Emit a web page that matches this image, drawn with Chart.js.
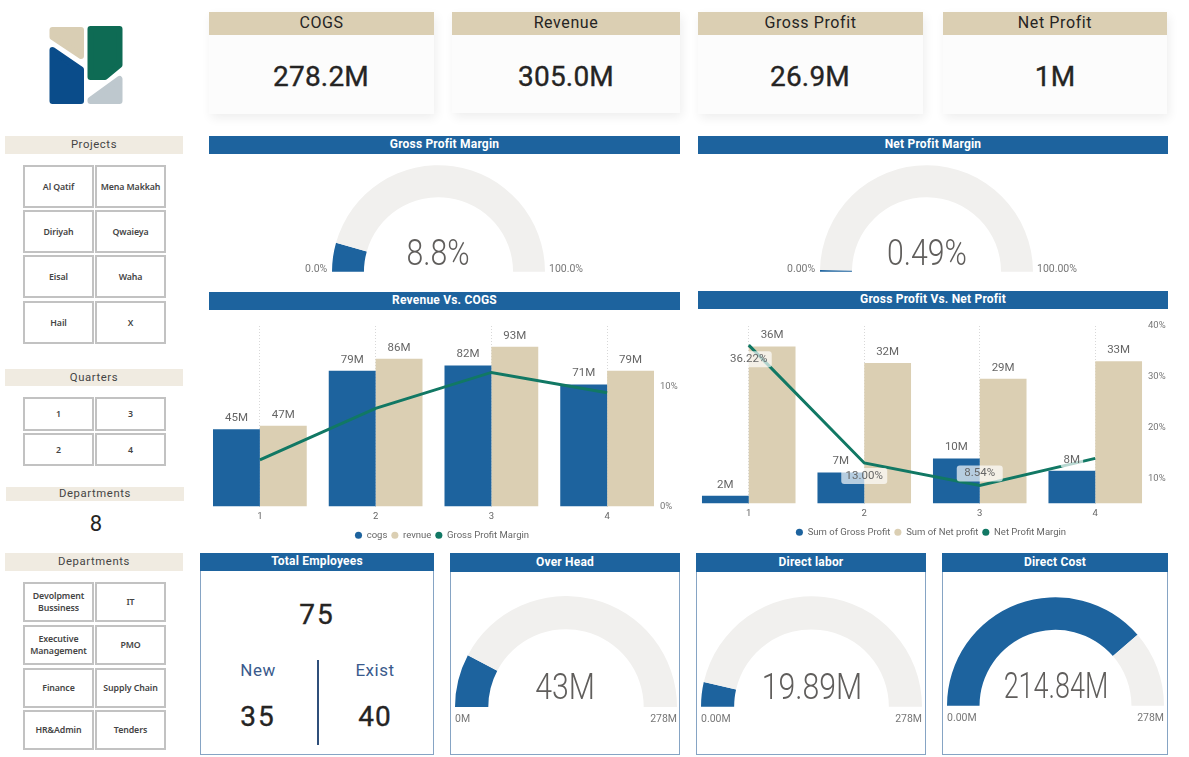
<!DOCTYPE html>
<html>
<head>
<meta charset="utf-8">
<title>Dashboard</title>
<script src="https://cdn.jsdelivr.net/npm/chart.js@4/dist/chart.umd.min.js"></script>
<style>
  html, body { margin: 0; padding: 0; background: #fff; }
  body { position: relative; width: 1189px; height: 757px; overflow: hidden; font-family: Roboto, sans-serif; }
  body > * { position: absolute; }
  canvas { display: block; }
  .kpi { background: #fcfcfc; box-shadow: 2px 4px 10px rgba(0,0,0,.07); }
  .kpi div { background: #dbcfb3; height: 23px; line-height: 22px; text-align: center; font-size: 16px; letter-spacing: .6px; color: #252423; }
  .bar { background: #1d639e; color: #fff; font-weight: 700; font-size: 12px; letter-spacing: .2px; display: flex; align-items: center; justify-content: center; padding-bottom: 2px; box-sizing: border-box; }
  .panel { border: 1.5px solid #86a4c4; box-sizing: border-box; }
  .head { background: #f0ebe1; color: #444; font-size: 11.3px; letter-spacing: .6px; display: flex; align-items: center; justify-content: center; padding-bottom: 1px; box-sizing: border-box; }
  .btn { border: 2px solid #c2c2c2; box-sizing: border-box; display: flex; align-items: center; justify-content: center; text-align: center;
         font-family: "Noto Sans", sans-serif; font-weight: 600; font-size: 8.8px; line-height: 12px; color: #444; letter-spacing: -.1px; }
  .t { transform: translate(-50%, -50%); white-space: nowrap; }
  .val { font-size: 28px; color: #252423; letter-spacing: .2px; -webkit-text-stroke: .35px #252423; }
  .big { font-size: 36px; font-weight: 300; color: #605e5c; transform: translate(-50%, -50%) scaleX(.84); }
  .sm { font-size: 10.5px; color: #777; white-space: nowrap; transform: translateY(-50%); }
  .sub { font-size: 17px; color: #3a5a8c; letter-spacing: .5px; }
</style>
</head>
<body>

<svg style="left:0;top:0" width="170" height="120">
  <g stroke-width="6" stroke-linejoin="round">
    <polygon points="52.5,30 81,30 81,56 52.5,37" fill="#d9ceb4" stroke="#d9ceb4"/>
    <polygon points="90.5,29 119.5,29 119.5,65 105,77 90.5,77" fill="#0e6b54" stroke="#0e6b54"/>
    <polygon points="52.5,50 81,69.5 81,101 52.5,101" fill="#0a4c8a" stroke="#0a4c8a"/>
    <polygon points="119.5,79 119.5,101 90.5,101 90.5,100" fill="#bec8ce" stroke="#bec8ce"/>
  </g>
</svg>

<div class="kpi" style="left:209px;top:12px;width:225px;height:102px"><div>COGS</div></div>
<div class="kpi" style="left:452px;top:12px;width:228px;height:101px"><div>Revenue</div></div>
<div class="kpi" style="left:698px;top:12px;width:225px;height:102px"><div>Gross Profit</div></div>
<div class="kpi" style="left:943px;top:12px;width:224px;height:102px"><div>Net Profit</div></div>
<div class="t val" style="left:321px;top:76px">278.2M</div>
<div class="t val" style="left:566px;top:76px">305.0M</div>
<div class="t val" style="left:810px;top:76px">26.9M</div>
<div class="t val" style="left:1055px;top:76px">1M</div>

<div class="head" style="left:5px;top:136px;width:178px;height:18px">Projects</div>
<div class="btn" style="left:23px;top:165px;width:71px;height:43px">Al Qatif</div>
<div class="btn" style="left:95px;top:165px;width:71px;height:43px">Mena Makkah</div>
<div class="btn" style="left:23px;top:210px;width:71px;height:43px">Diriyah</div>
<div class="btn" style="left:95px;top:210px;width:71px;height:43px">Qwaieya</div>
<div class="btn" style="left:23px;top:255px;width:71px;height:43px">Eisal</div>
<div class="btn" style="left:95px;top:255px;width:71px;height:43px">Waha</div>
<div class="btn" style="left:23px;top:301px;width:71px;height:43px">Hail</div>
<div class="btn" style="left:95px;top:301px;width:71px;height:43px">X</div>

<div class="head" style="left:5px;top:369px;width:178px;height:17px">Quarters</div>
<div class="btn" style="left:23px;top:397px;width:71px;height:34px">1</div>
<div class="btn" style="left:95px;top:397px;width:71px;height:34px">3</div>
<div class="btn" style="left:23px;top:433px;width:71px;height:33px">2</div>
<div class="btn" style="left:95px;top:433px;width:71px;height:33px">4</div>

<div class="head" style="left:6px;top:487px;width:178px;height:14px">Departments</div>
<div class="t" style="left:96px;top:523px;font-size:22px;color:#252423">8</div>

<div class="head" style="left:5px;top:553px;width:178px;height:18px">Departments</div>
<div class="btn" style="left:23px;top:582px;width:71px;height:40px">Devolpment<br>Bussiness</div>
<div class="btn" style="left:95px;top:582px;width:71px;height:40px">IT</div>
<div class="btn" style="left:23px;top:625px;width:71px;height:40px">Executive<br>Management</div>
<div class="btn" style="left:95px;top:625px;width:71px;height:40px">PMO</div>
<div class="btn" style="left:23px;top:668px;width:71px;height:40px">Finance</div>
<div class="btn" style="left:95px;top:668px;width:71px;height:40px">Supply Chain</div>
<div class="btn" style="left:23px;top:710px;width:71px;height:40px">HR&amp;Admin</div>
<div class="btn" style="left:95px;top:710px;width:71px;height:40px">Tenders</div>

<div class="bar" style="left:209px;top:136px;width:471px;height:18px">Gross Profit Margin</div>
<div class="bar" style="left:698px;top:136px;width:470px;height:18px">Net Profit Margin</div>
<canvas id="gaugeGross" style="left:332px;top:165px" width="213" height="107"></canvas>
<canvas id="gaugeNet" style="left:820px;top:165px" width="213" height="107"></canvas>
<div class="t big" style="left:438px;top:253px">8.8%</div>
<div class="t big" style="left:927px;top:253px">0.49%</div>
<div class="sm" style="left:305px;top:268px">0.0%</div>
<div class="sm" style="left:549px;top:268px">100.0%</div>
<div class="sm" style="left:787px;top:268px">0.00%</div>
<div class="sm" style="left:1037px;top:268px">100.00%</div>

<div class="bar" style="left:209px;top:292px;width:471px;height:18px">Revenue Vs. COGS</div>
<div class="bar" style="left:698px;top:291px;width:470px;height:18px">Gross Profit Vs. Net Profit</div>
<canvas id="revChart" style="left:202px;top:316px" width="480" height="234"></canvas>
<canvas id="profitChart" style="left:691px;top:316px" width="480" height="231"></canvas>

<div class="panel" style="left:200px;top:553px;width:234px;height:202px"></div>
<div class="bar" style="left:200px;top:553px;width:234px;height:18px">Total Employees</div>
<div class="t val" style="left:317px;top:614px;letter-spacing:2px">75</div>
<div class="t sub" style="left:258px;top:670px">New</div>
<div class="t sub" style="left:375px;top:670px">Exist</div>
<div class="t val" style="left:258px;top:716px;letter-spacing:2px">35</div>
<div class="t val" style="left:375px;top:716px;letter-spacing:1px">40</div>
<div style="left:317px;top:660px;width:2px;height:85px;background:#2f4f7a"></div>

<div class="panel" style="left:450px;top:553px;width:230px;height:202px"></div>
<div class="bar" style="left:450px;top:553px;width:230px;height:19px">Over Head</div>
<canvas id="gaugeOver" style="left:455px;top:596px" width="222" height="111"></canvas>
<div class="t big" style="left:565px;top:687px">43M</div>
<div class="sm" style="left:455px;top:718px">0M</div>
<div class="sm" style="right:512px;top:718px">278M</div>

<div class="panel" style="left:696px;top:553px;width:230px;height:202px"></div>
<div class="bar" style="left:696px;top:553px;width:230px;height:19px">Direct labor</div>
<canvas id="gaugeLabor" style="left:701px;top:596px" width="221" height="111"></canvas>
<div class="t big" style="left:812px;top:687px">19.89M</div>
<div class="sm" style="left:701px;top:718px">0.00M</div>
<div class="sm" style="right:267px;top:718px">278M</div>

<div class="panel" style="left:942px;top:553px;width:226px;height:202px"></div>
<div class="bar" style="left:942px;top:553px;width:226px;height:19px">Direct Cost</div>
<canvas id="gaugeCost" style="left:947px;top:597px" width="217" height="109"></canvas>
<div class="t big" style="left:1056px;top:686px;transform:translate(-50%,-50%) scaleX(.75)">214.84M</div>
<div class="sm" style="left:947px;top:717px">0.00M</div>
<div class="sm" style="right:25px;top:717px">278M</div>

<script>
const quarters = ["1", "2", "3", "4"];

const cogs = [45, 79, 82, 71];
const revnue = [47, 86, 93, 79];
const grossMargin = [3.9, 8.2, 11.2, 9.5];

const grossProfit = [1.8, 7.1, 10.3, 7.5];
const netProfit = [36, 32.2, 28.6, 32.6];
const netMargin = [36.22, 13.0, 8.54, 13.9];

const grossGauge = [8.8, 100];
const netGauge = [0.49, 100];
const overHead = [43, 278];
const directLabor = [19.89, 278];
const directCost = [214.84, 278];

const BLUE = "#1d639e";
const TAN = "#dbcfb3";
const GREEN = "#117864";
const TRACK = "#f1f0ee";

Chart.defaults.font.family = "Roboto, sans-serif";
Chart.defaults.animation = false;

function gauge(id, pair) {
  new Chart(id, {
    type: "doughnut",
    data: {
      datasets: [{
        data: [pair[0], pair[1] - pair[0]],
        backgroundColor: [BLUE, TRACK],
        borderWidth: 0
      }]
    },
    options: {
      responsive: false,
      rotation: -90,
      circumference: 180,
      cutout: "70%",
      plugins: { legend: { display: false }, tooltip: { enabled: false } }
    }
  });
}

gauge("gaugeGross", grossGauge);
gauge("gaugeNet", netGauge);
gauge("gaugeOver", overHead);
gauge("gaugeLabor", directLabor);
gauge("gaugeCost", directCost);

// no datalabels plugin here, so the value labels are drawn by hand
function textBox(ctx, text, x, y, boxColor, boxWidth) {
  if (boxColor) {
    const w = boxWidth || ctx.measureText(text).width + 6;
    ctx.fillStyle = boxColor;
    ctx.beginPath();
    ctx.roundRect(x - w / 2, y - 8, w, 16, 3);
    ctx.fill();
  }
  ctx.fillStyle = "#666";
  ctx.fillText(text, x, y);
}

const valueLabels = {
  id: "valueLabels",
  // the % ticks sit partly over the plot, labels get clipped at scale.left otherwise
  afterLayout(chart) {
    chart.scales.y1.left -= 5;
  },
  afterDatasetsDraw(chart, args, opts) {
    const ctx = chart.ctx;
    ctx.save();
    ctx.font = "11.5px Roboto, sans-serif";
    ctx.textAlign = "center";
    ctx.textBaseline = "middle";
    chart.data.datasets.forEach((ds, i) => {
      if (ds.type === "line") return;
      chart.getDatasetMeta(i).data.forEach((el, k) => {
        textBox(ctx, Math.round(ds.data[k]) + "M", el.x, el.y - 11, opts.barBox);
      });
    });
    if (opts.lineShift) {
      chart.data.datasets.forEach((ds, i) => {
        if (ds.type !== "line") return;
        chart.getDatasetMeta(i).data.forEach((el, k) => {
          if (opts.lineShift[k] === null) return;
          textBox(ctx, ds.data[k].toFixed(2) + "%", el.x, el.y + opts.lineShift[k], "rgba(255,255,255,.68)", 46);
        });
      });
    }
    ctx.restore();
  }
};

function combo(id, names, series, opts) {
  new Chart(id, {
    type: "bar",
    plugins: [valueLabels],
    data: {
      labels: quarters,
      datasets: [
        { label: names[0], data: series[0], backgroundColor: BLUE, yAxisID: "y", order: 1, categoryPercentage: 0.81, barPercentage: 1 },
        { label: names[1], data: series[1], backgroundColor: TAN, yAxisID: "y", order: 1, categoryPercentage: 0.81, barPercentage: 1 },
        { type: "line", label: names[2], data: series[2], borderColor: GREEN, backgroundColor: GREEN, borderWidth: 3, pointRadius: 0, tension: 0, yAxisID: "y1", order: 0 }
      ]
    },
    options: {
      responsive: false,
      layout: { padding: { top: 10 } },
      scales: {
        x: {
          grid: { offset: false, color: "#d8d8d8", drawTicks: false },
          border: { display: false, dash: [1, 2] },
          ticks: { color: "#666", font: { size: 9.5 }, padding: 4 },
          afterFit(s) { s.height = 20; s.paddingLeft = 0; s.paddingRight = 0; }
        },
        y: { display: false, min: 0, max: opts.barMax },
        y1: {
          position: "right",
          min: opts.lineMin,
          max: opts.lineMax,
          grid: { display: false, drawTicks: false },
          border: { display: false },
          ticks: { stepSize: 10, includeBounds: false, padding: 0, color: "#777", font: { size: 9.5 }, callback: v => v + "%" },
          afterFit(s) { s.width = opts.axisWidth; s.paddingTop = 0; s.paddingBottom = 0; }
        }
      },
      plugins: {
        tooltip: { enabled: false },
        valueLabels: opts.labels,
        legend: {
          position: "bottom",
          labels: {
            usePointStyle: true,
            boxWidth: 7,
            boxHeight: 5,
            padding: 4,
            color: "#666",
            font: { size: 9.5 },
            sort: (a, b) => a.datasetIndex - b.datasetIndex,
            generateLabels: c => Chart.defaults.plugins.legend.labels.generateLabels(c).map(it => ({ ...it, lineWidth: 0 }))
          }
        }
      }
    }
  });
}

combo("revChart", ["cogs", "revnue", "Gross Profit Margin"], [cogs, revnue, grossMargin], {
  barMax: 105, lineMin: 0, lineMax: 15.08, axisWidth: 17, labels: {}
});

combo("profitChart", ["Sum of Gross Profit", "Sum of Net profit", "Net Profit Margin"], [grossProfit, netProfit, netMargin], {
  barMax: 40.7, lineMin: 5, lineMax: 40, axisWidth: 18,
  labels: { barBox: "rgba(255,255,255,.7)", lineShift: [14, 13, -12, null] }
});
</script>
</body>
</html>
